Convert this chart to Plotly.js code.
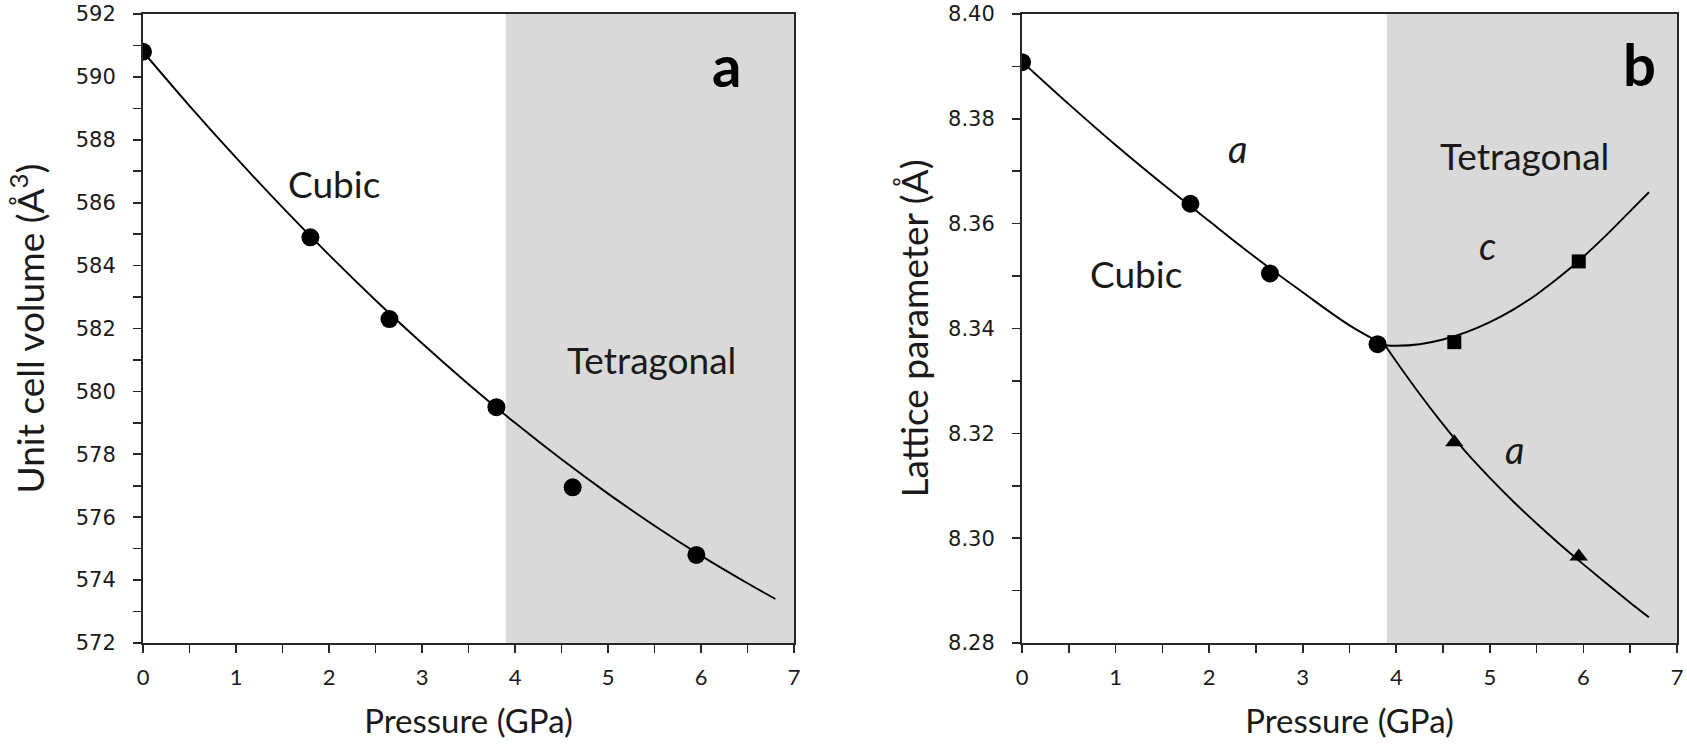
<!DOCTYPE html>
<html>
<head>
<meta charset="utf-8">
<script src="https://cdn.plot.ly/plotly-3.0.1.min.js"></script>
<style>
html,body{margin:0;padding:0;background:#fff;}
#chart{width:1687px;height:744px;}
</style>
</head>
<body>
<div id="chart"></div>
<script>
// ---- data ----
// measured pressures (GPa)
const pressure = [0, 1.8, 2.65, 3.8, 4.62, 5.95];
// panel a: unit cell volume (Å^3)
const volume = [590.8, 584.9, 582.3, 579.5, 576.95, 574.8];
// panel a: fitted curve
const fitP_a = [0, 0.5, 1, 1.5, 2, 2.5, 3, 3.5, 4, 4.5, 5, 5.5, 6, 6.5, 6.8];
const fitV_a = [590.8, 589.08, 587.43, 585.85, 584.34, 582.90, 581.53, 580.23, 579.00, 577.84, 576.75, 575.73, 574.78, 573.90, 573.40];

// panel b: cubic lattice parameter a (Å)
const pressureCubic = [0, 1.8, 2.65, 3.8];
const latticeCubicA = [8.3908, 8.3638, 8.3505, 8.3370];
// panel b: tetragonal c (squares) and a (triangles)
const pressureTet = [4.62, 5.95];
const latticeTetC = [8.3374, 8.3528];
const latticeTetA = [8.3183, 8.2965];

// curves in panel b
const fitP_cubic = [0, 0.5, 1, 1.5, 2, 2.5, 3, 3.5, 3.88];
const fitA_cubic = [8.3909, 8.3828, 8.3750, 8.3676, 8.3605, 8.3535, 8.3469, 8.3406, 8.3368];
const fitP_tetC = [3.88, 4.0, 4.25, 4.5, 4.75, 5.0, 5.25, 5.5, 5.75, 6.0, 6.25, 6.5, 6.7];
const fitC_tet = [8.3368, 8.3367, 8.3370, 8.3379, 8.3393, 8.3412, 8.3436, 8.3465, 8.3499, 8.3537, 8.3579, 8.3624, 8.3660];
const fitP_tetA = [3.88, 4.0, 4.25, 4.5, 4.75, 5.0, 5.25, 5.5, 5.75, 6.0, 6.25, 6.5, 6.7];
const fitA_tet = [8.3368, 8.3337, 8.3275, 8.3217, 8.3163, 8.3115, 8.3070, 8.3028, 8.2988, 8.2950, 8.2913, 8.2877, 8.2849];

// phase boundary (GPa) and ranges
const transitionP = 3.9;
const xRange = [0, 7];
const yRangeA = [572, 592];
const yRangeB = [8.28, 8.40];

// ---- figure ----
const FONT = "Lato, 'Open Sans', sans-serif";
const TICKFONT_Y = "'DejaVu Sans', Verdana, sans-serif";
const ink = '#1a1a1a';
const axisInk = '#262626';
const lineStyle = {color: '#000', width: 1.9, shape: 'spline', smoothing: 1};

const traces = [
  {x: fitP_a, y: fitV_a, mode: 'lines', line: lineStyle, xaxis: 'x', yaxis: 'y', showlegend: false, hoverinfo: 'skip'},
  {x: pressure, y: volume, mode: 'markers', marker: {symbol: 'circle', size: 18, color: '#000'}, xaxis: 'x', yaxis: 'y', showlegend: false},
  {x: fitP_cubic, y: fitA_cubic, mode: 'lines', line: lineStyle, xaxis: 'x2', yaxis: 'y2', showlegend: false, hoverinfo: 'skip'},
  {x: fitP_tetC, y: fitC_tet, mode: 'lines', line: lineStyle, xaxis: 'x2', yaxis: 'y2', showlegend: false, hoverinfo: 'skip'},
  {x: fitP_tetA, y: fitA_tet, mode: 'lines', line: lineStyle, xaxis: 'x2', yaxis: 'y2', showlegend: false, hoverinfo: 'skip'},
  {x: pressureCubic, y: latticeCubicA, mode: 'markers', marker: {symbol: 'circle', size: 18, color: '#000'}, xaxis: 'x2', yaxis: 'y2', showlegend: false},
  {x: pressureTet, y: latticeTetC, mode: 'markers', marker: {symbol: 'square', size: 14, color: '#000'}, xaxis: 'x2', yaxis: 'y2', showlegend: false},
  {x: pressureTet, y: latticeTetA, mode: 'markers', marker: {symbol: 'triangle-up', size: 16, color: '#000'}, xaxis: 'x2', yaxis: 'y2', showlegend: false}
];

const xTickFont = {family: FONT, size: 22, color: ink};
const yTickFont = {family: TICKFONT_Y, size: 21, color: ink};

function xAxis(domain, anchor) {
  return {
    domain: domain, anchor: anchor, range: xRange, dtick: 1, tick0: 0,
    showgrid: false, zeroline: false, showline: true, linecolor: axisInk, linewidth: 2, mirror: true,
    ticks: 'outside', ticklen: 8, tickwidth: 1.6, tickcolor: axisInk,
    minor: {dtick: 0.5, ticks: 'outside', ticklen: 8, tickwidth: 1.6, tickcolor: axisInk, showgrid: false},
    tickfont: xTickFont, ticklabelstandoff: 6, ticklabeloverflow: 'allow',
    title: {text: 'Pressure (GPa)', font: {family: FONT, size: 33, color: ink}, standoff: 20}
  };
}
function yAxis(domain, anchor, range, dtick, minor, fmt, title, standoff) {
  return {
    domain: domain, anchor: anchor, range: range, dtick: dtick, tick0: range[0], tickformat: fmt,
    showgrid: false, zeroline: false, showline: true, linecolor: axisInk, linewidth: 2, mirror: true,
    ticks: 'outside', ticklen: 8, tickwidth: 1.6, tickcolor: axisInk,
    minor: {dtick: minor, ticks: 'outside', ticklen: 8, tickwidth: 1.6, tickcolor: axisInk, showgrid: false},
    tickfont: yTickFont, ticklabelstandoff: 13, ticklabeloverflow: 'allow',
    title: {text: title, font: {family: FONT, size: 37, color: ink}, standoff: standoff}
  };
}

const yDom = [1 - 643 / 744, 1 - 14 / 744];
const annFont = {family: FONT, size: 37, color: ink};
const italFont = {family: FONT, size: 38, color: ink};
const layout = {
  width: 1687, height: 744,
  margin: {l: 0, r: 0, t: 0, b: 0},
  paper_bgcolor: '#ffffff', plot_bgcolor: '#ffffff',
  showlegend: false,
  font: {family: FONT, color: ink},
  xaxis: xAxis([143 / 1687, 794 / 1687], 'y'),
  yaxis: yAxis(yDom, 'x', yRangeA, 2, 1, 'd', 'Unit cell volume (Å<sup>3</sup>)', 20),
  xaxis2: xAxis([1022 / 1687, 1677 / 1687], 'y2'),
  yaxis2: yAxis(yDom, 'x2', yRangeB, 0.02, 0.01, '.2f', 'Lattice parameter (Å)', 8),
  shapes: [
    {type: 'rect', xref: 'x', yref: 'y', x0: transitionP, x1: xRange[1], y0: yRangeA[0], y1: yRangeA[1], fillcolor: '#d9d9d9', line: {width: 0}, layer: 'below'},
    {type: 'rect', xref: 'x2', yref: 'y2', x0: transitionP, x1: xRange[1], y0: yRangeB[0], y1: yRangeB[1], fillcolor: '#d9d9d9', line: {width: 0}, layer: 'below'}
  ],
  annotations: [
    {xref: 'x', yref: 'y', x: 6.27, y: 590.4, text: '<b>a</b>', showarrow: false, font: {family: FONT, size: 58, color: '#000'}},
    {xref: 'x', yref: 'y', x: 2.05, y: 586.6, text: 'Cubic', showarrow: false, font: annFont},
    {xref: 'x', yref: 'y', x: 5.47, y: 581.0, text: 'Tetragonal', showarrow: false, font: annFont},
    {xref: 'x2', yref: 'y2', x: 6.6, y: 8.3905, text: '<b>b</b>', showarrow: false, font: {family: FONT, size: 58, color: '#000'}},
    {xref: 'x2', yref: 'y2', x: 5.37, y: 8.3730, text: 'Tetragonal', showarrow: false, font: annFont},
    {xref: 'x2', yref: 'y2', x: 1.22, y: 8.3504, text: 'Cubic', showarrow: false, font: annFont},
    {xref: 'x2', yref: 'y2', x: 2.30, y: 8.3745, text: '<i>a</i>', showarrow: false, font: italFont},
    {xref: 'x2', yref: 'y2', x: 4.98, y: 8.3560, text: '<i>c</i>', showarrow: false, font: italFont},
    {xref: 'x2', yref: 'y2', x: 5.26, y: 8.3170, text: '<i>a</i>', showarrow: false, font: italFont}
  ]
};

Plotly.newPlot('chart', traces, layout, {displayModeBar: false, staticPlot: true});
</script>
</body>
</html>
